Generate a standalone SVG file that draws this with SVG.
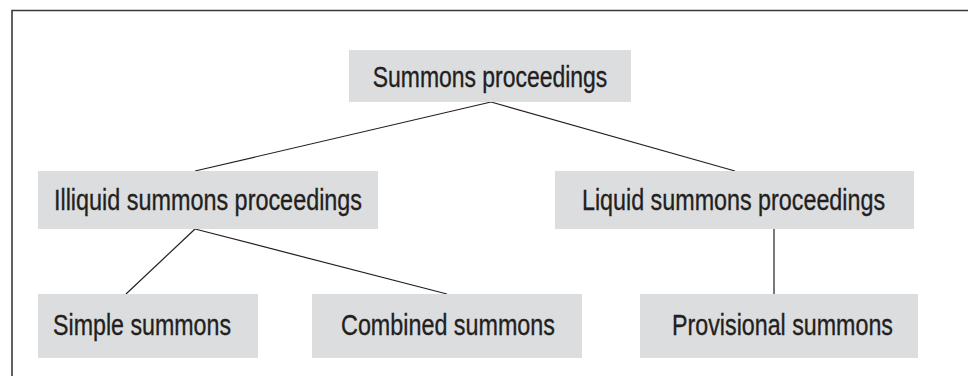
<svg xmlns="http://www.w3.org/2000/svg" width="968" height="376" viewBox="0 0 968 376">
<style>
  .box { fill: #dcdddf; }
  .lbl { font-family: "Liberation Sans", Arial, sans-serif; font-size: 30px; fill: #231f20; stroke: #231f20; stroke-width: 0.35; text-anchor: middle; }
  .conn line { stroke: #231f20; stroke-width: 1.2; }
  .frame { fill: none; stroke: #3a3a3a; stroke-width: 1.6; }
</style>
<rect width="968" height="376" fill="#ffffff"/>
<path class="frame" d="M12 376 V10.5 H968"/>
<g id="connectors" class="conn">
  <line x1="491" y1="102" x2="195" y2="171"/>
  <line x1="491" y1="102" x2="735" y2="171"/>
  <line x1="195" y1="229" x2="126" y2="294"/>
  <line x1="195" y1="229" x2="447" y2="294"/>
  <line x1="774" y1="229" x2="774" y2="294"/>
</g>
<g id="node-summons">
  <rect class="box" x="349" y="50" width="282" height="52"/>
  <text class="lbl" transform="translate(490 86.5) scale(0.765 1)">Summons proceedings</text>
</g>
<g id="node-illiquid">
  <rect class="box" x="38" y="171" width="340" height="58"/>
  <text class="lbl" transform="translate(208 209.5) scale(0.78 1)">Illiquid summons proceedings</text>
</g>
<g id="node-liquid">
  <rect class="box" x="555" y="171" width="359" height="58"/>
  <text class="lbl" transform="translate(733.5 209.5) scale(0.777 1)">Liquid summons proceedings</text>
</g>
<g id="node-simple">
  <rect class="box" x="38" y="294" width="220" height="64"/>
  <text class="lbl" transform="translate(142 335) scale(0.774 1)">Simple summons</text>
</g>
<g id="node-combined">
  <rect class="box" x="312" y="294" width="270" height="64"/>
  <text class="lbl" transform="translate(448 335) scale(0.778 1)">Combined summons</text>
</g>
<g id="node-provisional">
  <rect class="box" x="640" y="294" width="278" height="64"/>
  <text class="lbl" transform="translate(782.5 335) scale(0.775 1)">Provisional summons</text>
</g>
</svg>
